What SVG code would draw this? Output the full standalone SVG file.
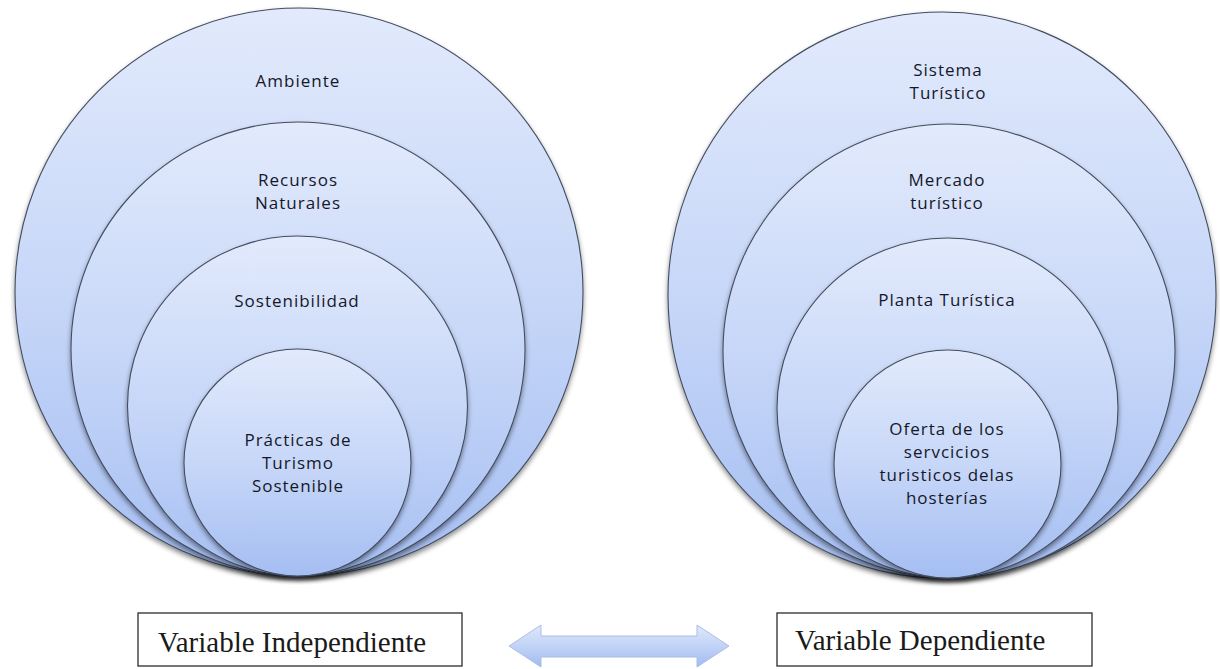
<svg xmlns="http://www.w3.org/2000/svg" width="1220" height="669" viewBox="0 0 1220 669">
  <style>
    .ring { fill: url(#ringFill); stroke: #434d60; stroke-width: 1.1; filter: url(#ringShadow); }
    .lbl { font-family: "Open Sans", "Liberation Sans", sans-serif; font-size: 17px; letter-spacing: 1px; fill: #15182a; text-anchor: middle; }
    .box { fill: #ffffff; stroke: #2b2b2b; stroke-width: 1.3; }
    .var { font-family: "Liberation Serif", "Times New Roman", serif; font-size: 29px; fill: #1a1a1a; }
  </style>
  <defs>
    <linearGradient id="ringFill" x1="0" y1="0" x2="0" y2="1">
      <stop offset="0" stop-color="#e2eafc"/>
      <stop offset="0.5" stop-color="#c7d7f8"/>
      <stop offset="1" stop-color="#a5bef2"/>
    </linearGradient>
    <linearGradient id="arrowFill" x1="0" y1="0" x2="0" y2="1">
      <stop offset="0" stop-color="#e0e9fc"/>
      <stop offset="1" stop-color="#a2bcf0"/>
    </linearGradient>
    <filter id="ringShadow" x="-10%" y="-10%" width="120%" height="125%">
      <feDropShadow dx="0" dy="3" stdDeviation="2.5" flood-color="#000000" flood-opacity="0.45"/>
    </filter>
    <filter id="soft" x="-10%" y="-30%" width="120%" height="160%">
      <feGaussianBlur stdDeviation="0.5"/>
    </filter>
  </defs>

  <rect width="1220" height="669" fill="#ffffff"/>

  <!-- Independent variable: nested rings -->
  <g id="ambiente">
    <circle class="ring" cx="299" cy="292" r="284"/>
    <text class="lbl" x="298" y="87">Ambiente</text>
  </g>
  <g id="recursos-naturales">
    <circle class="ring" cx="298" cy="349" r="227"/>
    <text class="lbl" x="298" y="186">Recursos</text>
    <text class="lbl" x="298" y="209">Naturales</text>
  </g>
  <g id="sostenibilidad">
    <circle class="ring" cx="297.5" cy="406" r="170"/>
    <text class="lbl" x="297" y="307">Sostenibilidad</text>
  </g>
  <g id="practicas">
    <circle class="ring" cx="297.5" cy="462.5" r="113.5"/>
    <text class="lbl" x="298" y="446">Prácticas de</text>
    <text class="lbl" x="298" y="469">Turismo</text>
    <text class="lbl" x="298" y="492">Sostenible</text>
  </g>

  <!-- Dependent variable: nested rings -->
  <g id="sistema-turistico">
    <ellipse class="ring" cx="942" cy="295" rx="274" ry="283"/>
    <text class="lbl" x="948" y="76">Sistema</text>
    <text class="lbl" x="948" y="99">Turístico</text>
  </g>
  <g id="mercado-turistico">
    <ellipse class="ring" cx="949" cy="351" rx="226" ry="227"/>
    <text class="lbl" x="947" y="186">Mercado</text>
    <text class="lbl" x="947" y="209">turístico</text>
  </g>
  <g id="planta-turistica">
    <ellipse class="ring" cx="947.5" cy="408" rx="170.5" ry="170"/>
    <text class="lbl" x="947" y="306">Planta Turística</text>
  </g>
  <g id="oferta">
    <ellipse class="ring" cx="947.5" cy="464" rx="113.5" ry="114"/>
    <text class="lbl" x="947" y="435">Oferta de los</text>
    <text class="lbl" x="947" y="458">servcicios</text>
    <text class="lbl" x="947" y="481">turisticos delas</text>
    <text class="lbl" x="947" y="504">hosterías</text>
  </g>

  <!-- Variable labels -->
  <g id="variable-independiente">
    <rect class="box" x="138" y="613" width="324" height="53"/>
    <text class="var" x="158" y="652">Variable Independiente</text>
  </g>
  <g id="variable-dependiente">
    <rect class="box" x="777" y="613" width="315" height="53"/>
    <text class="var" x="795" y="650">Variable Dependiente</text>
  </g>

  <!-- Double-headed relation arrow -->
  <g id="connectors">
    <path d="M509 646 L541 625 L541 636 L697 636 L697 625 L729 646 L697 667 L697 657 L541 657 L541 667 Z"
          fill="url(#arrowFill)" stroke="#a9bde6" stroke-width="1" filter="url(#soft)"/>
  </g>
</svg>
